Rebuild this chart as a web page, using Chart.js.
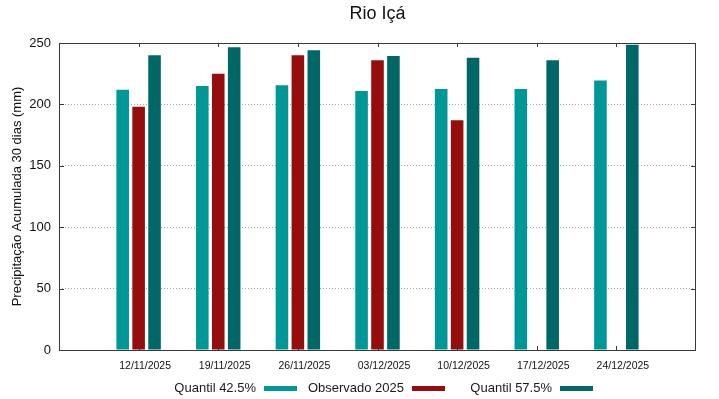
<!DOCTYPE html>
<html>
<head>
<meta charset="utf-8">
<script src="https://cdn.jsdelivr.net/npm/chart.js@4"></script>
<style>
  html, body { margin: 0; padding: 0; background: #fff; }
  #wrap { width: 719px; height: 399px; }
</style>
</head>
<body>
<div id="wrap"><canvas id="myChart" width="719" height="399"></canvas></div>
<script>
// Data
const categories = ['12/11/2025', '19/11/2025', '26/11/2025', '03/12/2025', '10/12/2025', '17/12/2025', '24/12/2025'];
const quantil425 = [212, 215, 215.5, 211, 212.5, 212.5, 219.5];
const observado2025 = [198, 225, 240, 236, 187, null, null];
const quantil575 = [240, 246.5, 244, 239.5, 238, 236, 248.5];
const yTicks = [0, 50, 100, 150, 200, 250];

const seriesNames = ['Quantil 42.5%', 'Observado 2025', 'Quantil 57.5%'];
const seriesColors = ['#009797', '#960d0d', '#006767'];

const FONT = '"Liberation Sans", Arial, sans-serif';
const frameColor = '#3a3a3a';

// empty slot at each end so the axis runs one step past the first and last date
function pad(arr) {
    return [null, ...arr, null];
}

// gnuplot-like frame, inward ticks and a legend with text before the sample
const frameAndKey = {
    id: 'frameAndKey',
    afterDatasetsDraw(chart) {
        const ctx = chart.ctx;
        const a = chart.chartArea;
        const x = chart.scales.x;
        const y = chart.scales.y;
        ctx.save();
        ctx.strokeStyle = frameColor;
        ctx.lineWidth = 1;
        ctx.beginPath();
        // x ticks, top and bottom
        for (let i = 1; i <= categories.length; i++) {
            const px = Math.round(x.getPixelForValue(i)) + 0.5;
            ctx.moveTo(px, a.top);
            ctx.lineTo(px, a.top + 4);
            ctx.moveTo(px, a.bottom);
            ctx.lineTo(px, a.bottom - 4);
        }
        // y ticks, left and right
        yTicks.forEach(v => {
            const py = Math.round(y.getPixelForValue(v)) + 0.5;
            ctx.moveTo(a.left, py);
            ctx.lineTo(a.left + 5, py);
            ctx.moveTo(a.right, py);
            ctx.lineTo(a.right - 5, py);
        });
        ctx.stroke();
        ctx.strokeRect(Math.round(a.left) + 0.5, Math.round(a.top) + 0.5,
            Math.round(a.right - a.left) - 1, Math.round(a.bottom - a.top));
        ctx.restore();
    },
    afterDraw(chart) {
        const ctx = chart.ctx;
        ctx.save();
        ctx.font = '13px ' + FONT;
        ctx.textAlign = 'right';
        ctx.textBaseline = 'middle';
        seriesNames.forEach((name, i) => {
            const sx = 264 + i * 148;
            ctx.fillStyle = '#1a1a1a';
            ctx.fillText(name, sx - 8, 388);
            ctx.fillStyle = seriesColors[i];
            ctx.fillRect(sx, 386, 33, 5);
        });
        ctx.restore();
    }
};

const ctx = document.getElementById('myChart').getContext('2d');
const myChart = new Chart(ctx, {
    type: 'bar',
    data: {
        labels: pad(categories.map(() => '')).map((v, i) => i === 0 || i > categories.length ? '' : categories[i - 1]),
        datasets: [
            { label: seriesNames[0], data: pad(quantil425), backgroundColor: seriesColors[0] },
            { label: seriesNames[1], data: pad(observado2025), backgroundColor: seriesColors[1] },
            { label: seriesNames[2], data: pad(quantil575), backgroundColor: seriesColors[2] }
        ]
    },
    options: {
        responsive: false,
        animation: false,
        categoryPercentage: 0.6,
        barPercentage: 0.79,
        layout: { padding: { left: 0, right: 23, top: 0, bottom: 0 } },
        plugins: {
            legend: { display: false },
            tooltip: { enabled: false },
            title: {
                display: true,
                text: 'Rio Içá',
                fullSize: false,
                color: '#111',
                font: { family: FONT, size: 18, weight: 'normal' },
                padding: { top: 3, bottom: 18.4 }
            }
        },
        scales: {
            x: {
                offset: false,
                grid: { display: false, drawTicks: false },
                border: { display: false },
                ticks: {
                    autoSkip: false,
                    maxRotation: 0,
                    padding: 10,
                    labelOffset: 6.5,
                    color: '#111',
                    font: { family: FONT, size: 10.5 }
                },
                afterFit(scale) { scale.height = 49; }
            },
            y: {
                min: 0,
                max: 250,
                afterBuildTicks(scale) { scale.ticks = yTicks.map(v => ({ value: v })); },
                grid: {
                    drawTicks: false,
                    color: ctx => (ctx.tick && (ctx.tick.value === 0 || ctx.tick.value === 250)) ? 'rgba(0,0,0,0)' : '#a8a8a8',
                    lineWidth: 1
                },
                border: { display: false, dash: [1, 2] },
                ticks: {
                    padding: 8,
                    color: '#111',
                    font: { family: FONT, size: 13 }
                },
                title: {
                    display: true,
                    text: 'Precipitação Acumulada 30 dias (mm)',
                    color: '#111',
                    font: { family: FONT, size: 13 },
                    padding: { top: 10, bottom: 0 }
                },
                afterFit(scale) { scale.width = 59; }
            }
        }
    },
    plugins: [frameAndKey]
});
</script>
</body>
</html>
